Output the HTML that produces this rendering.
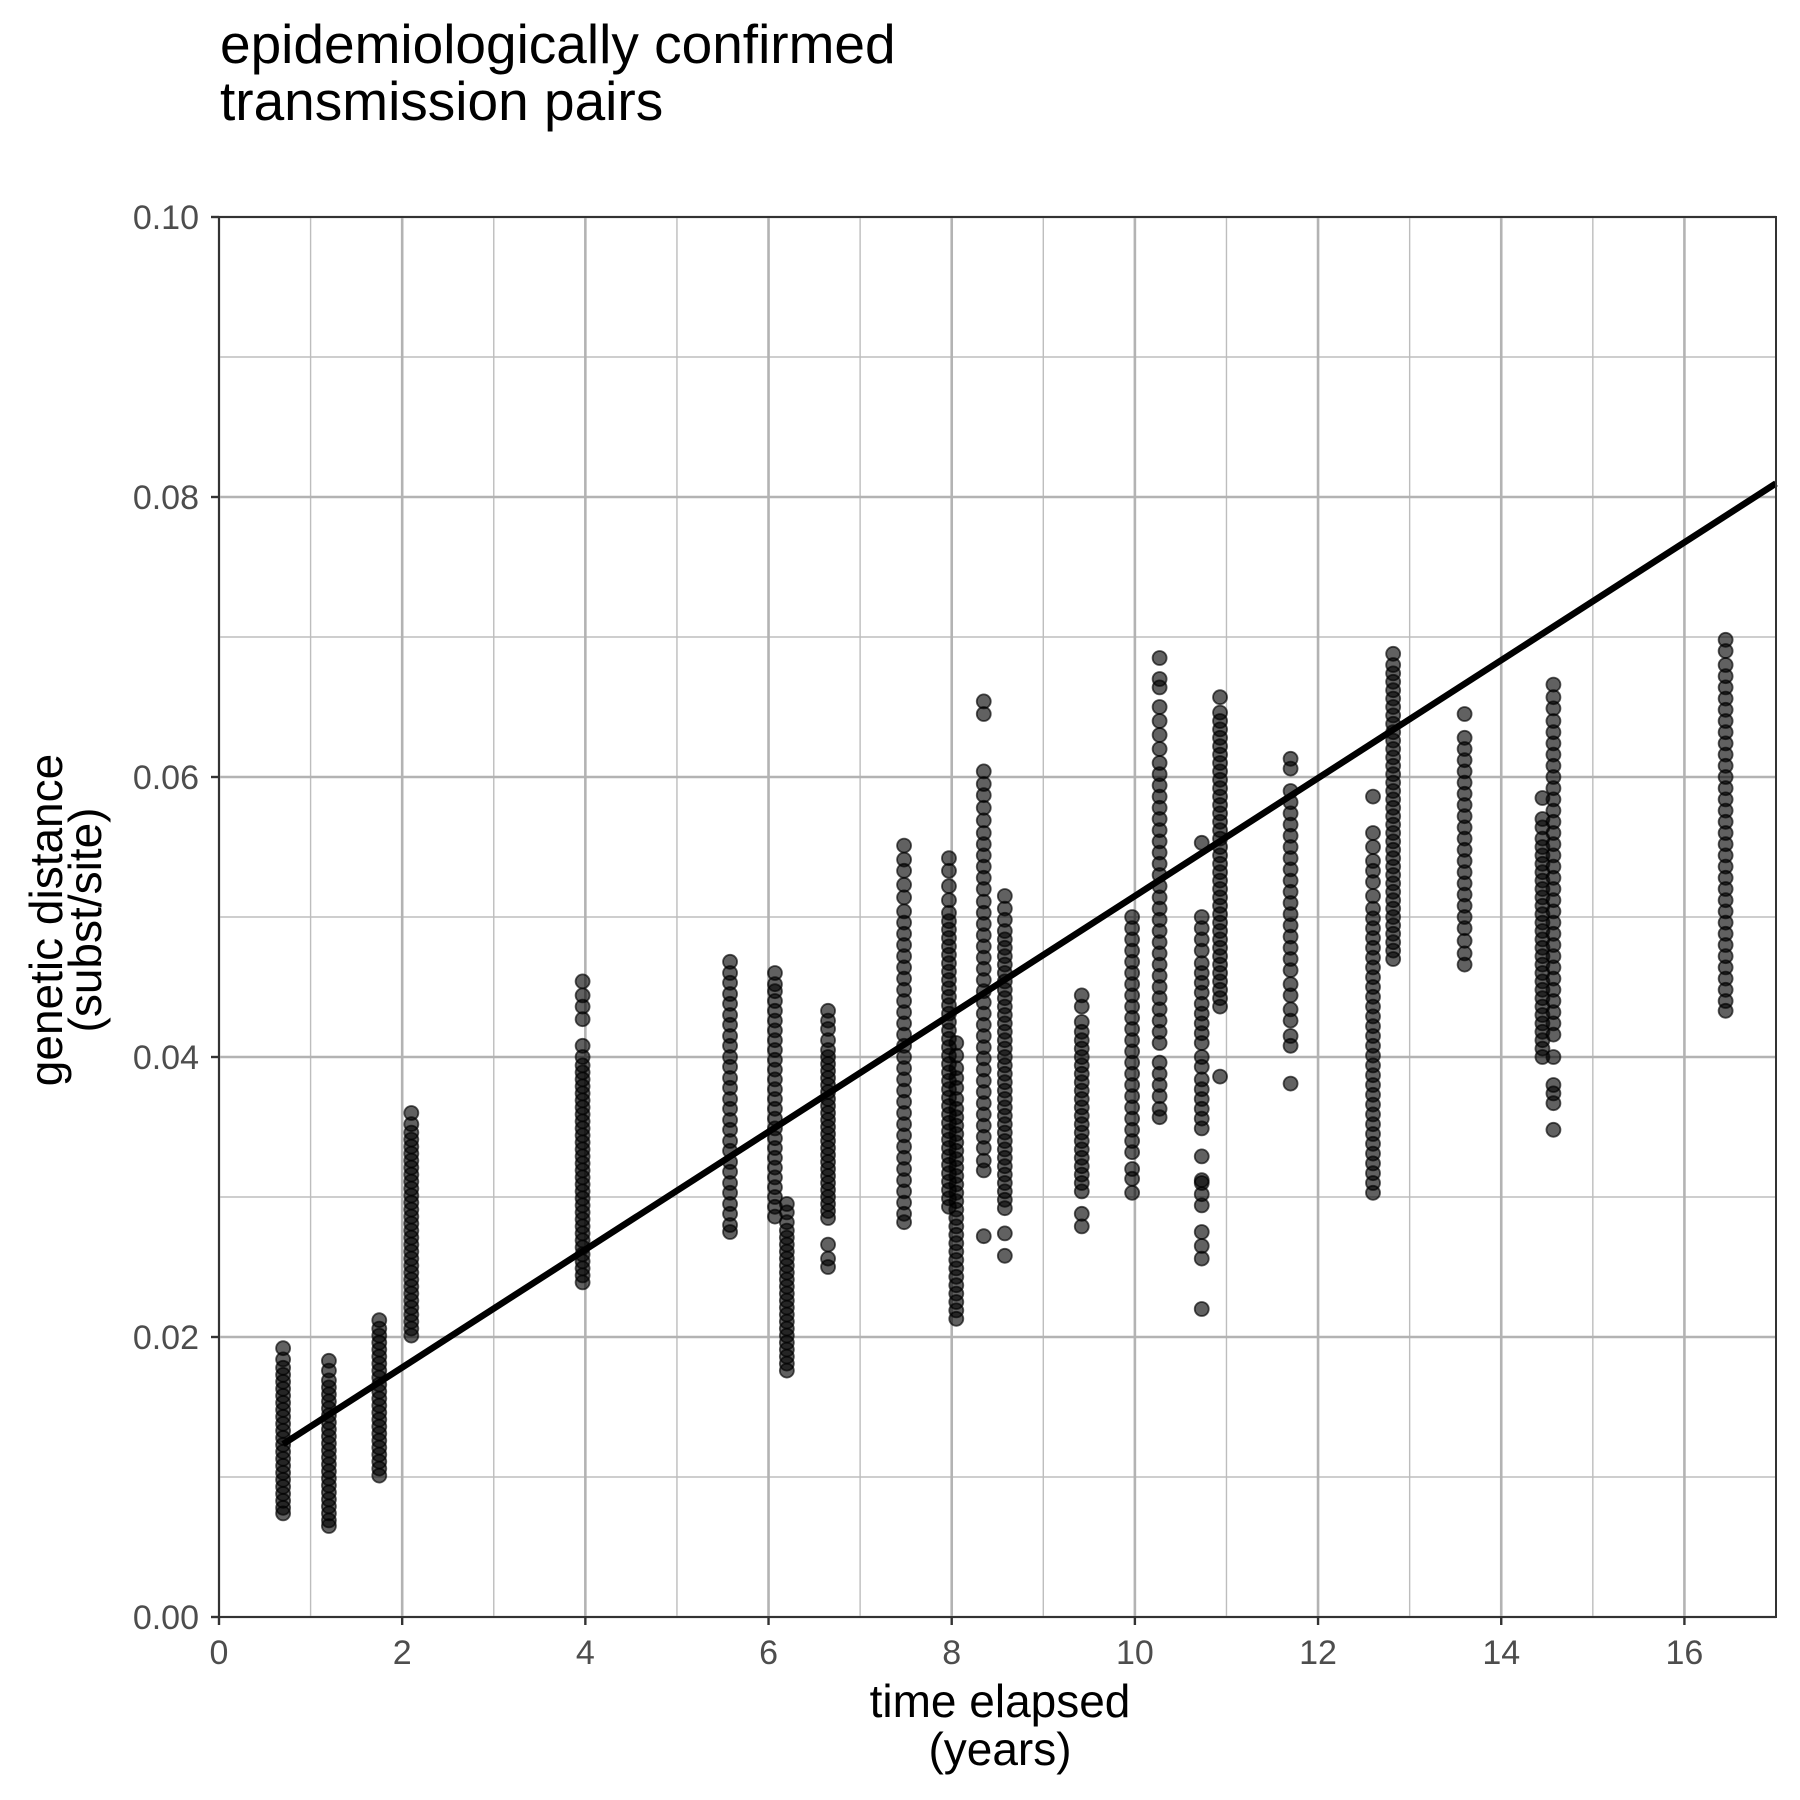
<!DOCTYPE html>
<html><head><meta charset="utf-8"><style>
html,body{margin:0;padding:0;background:#fff;}
svg{display:block;font-family:"Liberation Sans",Arial,sans-serif;}
</style></head><body>
<svg id="chart" width="1800" height="1800" viewBox="0 0 1800 1800" xmlns="http://www.w3.org/2000/svg">
<text x="220" y="63" font-size="55" fill="#000">epidemiologically confirmed</text>
<text x="220" y="120" font-size="55" fill="#000">transmission pairs</text>
<g id="grid"></g>
<g id="points"></g>
<g id="fit"></g>
<g id="axes"></g>
<text x="1000" y="1717" font-size="46" text-anchor="middle">time elapsed</text>
<text x="1000" y="1765" font-size="46" text-anchor="middle">(years)</text>
<text transform="translate(62,920) rotate(-90)" font-size="46" text-anchor="middle">genetic distance</text>
<text transform="translate(101,920) rotate(-90)" font-size="46" text-anchor="middle">(subst/site)</text>
</svg>
<script>
const xTicks = [0,2,4,6,8,10,12,14,16];
const xMinor = [1,3,5,7,9,11,13,15];
const yTicks = [0,0.02,0.04,0.06,0.08,0.10];
const yTickLabels = ["0.00","0.02","0.04","0.06","0.08","0.10"];
const yMinor = [0.01,0.03,0.05,0.07,0.09];
const fitIntercept = 0.0094;
const fitSlope = 0.00421;
const fitRange = [0.7,17];
// column x positions (years) and genetic distances (x0.001 subst/site)
const groupX = [0.7,1.2,1.75,2.1,3.97,5.58,6.07,6.2,6.65,7.48,7.97,8.05,8.35,8.58,9.42,9.97,10.27,10.73,10.93,11.7,12.6,12.82,13.6,14.45,14.57,16.45];
const groupY = [
[7.4,7.8,8.3,8.8,9.3,9.8,10.3,10.8,11.3,11.8,12.3,12.8,13.3,13.8,14.3,14.8,15.3,15.8,16.3,16.8,17.3,17.8,18.4,19.2],
[6.5,6.9,7.4,7.9,8.4,8.9,9.4,9.9,10.4,10.9,11.4,11.9,12.4,12.9,13.4,13.9,14.4,14.9,15.4,15.9,16.4,16.9,17.6,18.3],
[10.1,10.6,11.1,11.6,12.1,12.6,13.1,13.6,14.1,14.6,15.1,15.6,16.1,16.6,17.1,17.6,18.1,18.6,19.1,19.6,20.1,20.6,21.2],
[20.1,20.6,21.1,21.6,22.1,22.6,23.1,23.6,24.1,24.6,25.1,25.6,26.1,26.6,27.1,27.6,28.1,28.6,29.1,29.6,30.1,30.6,31.1,31.6,32.1,32.6,33.1,33.6,34.1,34.6,35.2,36.0],
[23.9,24.4,24.9,25.4,25.9,26.4,26.9,27.4,27.9,28.4,28.9,29.4,29.9,30.4,30.9,31.4,31.9,32.4,32.9,33.4,33.9,34.4,34.9,35.4,35.9,36.4,36.9,37.4,37.9,38.4,38.9,39.4,40.0,40.8,42.7,43.6,44.4,45.4],
[27.5,28.0,28.8,29.5,30.3,31.0,31.8,32.5,33.3,34.0,34.8,35.5,36.3,37.0,37.8,38.5,39.3,40.0,40.8,41.5,42.3,43.0,43.8,44.5,45.3,46.0,46.8],
[28.6,29.3,30.0,30.7,31.4,32.1,32.8,33.5,34.2,34.9,35.6,36.3,37.0,37.7,38.4,39.1,39.8,40.5,41.2,41.9,42.6,43.3,44.0,44.7,45.2,46.0],
[17.6,18.1,18.6,19.1,19.6,20.1,20.6,21.1,21.6,22.1,22.6,23.1,23.6,24.1,24.6,25.1,25.6,26.1,26.6,27.1,27.6,28.2,28.9,29.5],
[25.0,25.6,26.6,28.5,29.0,29.5,30.0,30.5,31.0,31.5,32.0,32.5,33.0,33.5,34.0,34.5,35.0,35.5,36.0,36.5,37.0,37.5,38.0,38.5,39.0,39.5,40.0,40.5,41.2,42.0,42.6,43.3],
[28.2,28.8,29.6,30.4,31.2,32.0,32.8,33.6,34.4,35.2,36.0,36.8,37.6,38.4,39.2,40.0,40.8,41.6,42.4,43.2,44.0,44.8,45.6,46.4,47.2,48.0,48.8,49.6,50.4,51.4,52.3,53.3,54.1,55.1],
[29.3,29.9,30.5,31.1,31.7,32.3,32.9,33.5,34.1,34.7,35.3,35.9,36.5,37.1,37.7,38.3,38.9,39.5,40.1,40.7,41.3,41.9,42.5,43.1,43.7,44.3,44.9,45.5,46.1,46.7,47.3,47.9,48.5,49.1,49.7,50.3,51.2,52.2,53.3,54.2],
[21.3,21.9,22.5,23.1,23.7,24.3,24.9,25.5,26.1,26.7,27.3,27.9,28.5,29.1,29.7,30.3,30.9,31.5,32.1,32.7,33.3,33.9,34.5,35.1,35.7,36.3,37.0,37.8,38.5,39.2,40.1,41.0],
[27.2,31.9,32.6,33.5,34.3,35.1,35.9,36.7,37.5,38.3,39.1,39.9,40.7,41.5,42.3,43.1,43.9,44.7,45.5,46.3,47.1,47.9,48.7,49.5,50.3,51.1,52.0,52.8,53.6,54.4,55.2,56.0,56.9,57.8,58.7,59.5,60.4,64.5,65.4],
[25.8,27.4,29.2,29.8,30.4,31.0,31.6,32.2,32.8,33.4,34.0,34.6,35.2,35.8,36.4,37.0,37.6,38.2,38.8,39.4,40.0,40.6,41.2,41.8,42.4,43.0,43.6,44.2,44.8,45.4,46.0,46.6,47.2,47.8,48.4,49.0,49.8,50.6,51.5],
[27.9,28.8,30.4,31.0,31.6,32.2,32.8,33.4,34.0,34.6,35.2,35.8,36.4,37.0,37.6,38.2,38.8,39.4,40.0,40.6,41.2,41.8,42.5,43.6,44.4],
[30.3,31.3,32.0,33.2,34.0,34.8,35.6,36.4,37.2,38.0,38.8,39.6,40.4,41.2,42.0,42.8,43.6,44.4,45.2,46.0,46.8,47.6,48.4,49.2,50.0],
[35.7,36.3,37.2,38.0,38.8,39.6,41.0,41.8,42.6,43.4,44.2,45.0,45.8,46.6,47.4,48.2,49.0,49.8,50.6,51.4,52.2,53.0,53.8,54.6,55.4,56.2,57.0,57.8,58.6,59.4,60.2,61.0,62.0,63.0,64.0,65.0,66.4,67.0,68.5],
[22.0,25.6,26.5,27.5,29.4,30.2,31.0,31.2,32.9,34.9,35.6,36.3,37.0,37.7,38.4,39.3,40.0,41.0,41.7,42.4,43.1,43.8,44.6,45.3,46.0,46.7,47.6,48.4,49.2,50.0,55.3],
[38.6,43.6,44.2,44.8,45.4,46.0,46.6,47.2,47.8,48.4,49.0,49.6,50.2,50.8,51.4,52.0,52.6,53.2,53.8,54.4,55.0,55.6,56.2,56.8,57.4,58.0,58.6,59.2,59.8,60.4,61.0,61.6,62.2,62.8,63.4,64.0,64.6,65.7],
[38.1,40.8,41.5,42.6,43.4,44.4,45.2,46.2,47.0,47.8,48.6,49.4,50.2,51.0,51.8,52.6,53.4,54.2,55.0,55.8,56.6,57.4,58.2,59.0,60.6,61.3],
[30.3,31.0,31.7,32.4,33.1,33.8,34.5,35.2,35.9,36.6,37.3,38.0,38.7,39.4,40.1,40.8,41.5,42.2,42.9,43.6,44.3,45.0,45.7,46.4,47.1,47.8,48.5,49.2,49.9,50.6,51.5,52.5,53.3,54.0,55.0,56.0,58.6],
[47.0,47.6,48.2,48.8,49.4,50.0,50.6,51.2,51.8,52.4,53.0,53.6,54.2,54.8,55.4,56.0,56.6,57.2,57.8,58.4,59.0,59.6,60.2,60.8,61.4,62.0,62.6,63.2,63.8,64.4,65.0,65.6,66.2,66.8,67.4,68.0,68.8],
[46.6,47.4,48.3,49.2,50.0,50.8,51.6,52.4,53.2,54.0,54.8,55.6,56.4,57.2,58.0,58.8,59.6,60.4,61.2,62.0,62.8,64.5],
[40.0,40.6,41.2,41.8,42.4,43.0,43.6,44.2,44.8,45.4,46.0,46.6,47.2,47.8,48.4,49.0,49.6,50.2,50.8,51.4,52.0,52.6,53.2,53.8,54.4,55.0,55.6,56.4,57.0,58.5],
[34.8,36.7,37.4,38.0,40.0,41.6,42.4,43.2,44.0,44.8,45.6,46.4,47.2,48.0,48.8,49.6,50.4,51.2,52.0,52.8,53.6,54.4,55.2,56.0,56.8,57.6,58.4,59.2,60.0,60.8,61.6,62.4,63.2,64.0,64.9,65.7,66.6],
[43.3,44.0,44.8,45.6,46.4,47.2,48.0,48.8,49.6,50.4,51.2,52.0,52.8,53.6,54.4,55.2,56.0,56.8,57.6,58.4,59.2,60.0,60.8,61.6,62.4,63.2,64.0,64.8,65.6,66.4,67.2,68.0,69.0,69.8]
];

const NS = "http://www.w3.org/2000/svg";
const L = 219, R = 1776, T = 217, B = 1617;
const XMAX = 17, YMAX = 0.10;
function sx(v){ return L + v / XMAX * (R - L); }
function sy(v){ return B - v / YMAX * (B - T); }
function mk(tag, attrs, parent){
  const el = document.createElementNS(NS, tag);
  for (const k in attrs) el.setAttribute(k, attrs[k]);
  parent.appendChild(el);
  return el;
}
const grid = document.getElementById('grid');
const pts = document.getElementById('points');
const fit = document.getElementById('fit');
const axes = document.getElementById('axes');

mk('rect', {x:L, y:T, width:R-L, height:B-T, fill:'#fff'}, grid);
xMinor.forEach(v => {
  const el = mk('line', {x1:sx(v), x2:sx(v), y1:T, y2:B, stroke:'#bdbdbd', 'stroke-width':1.4}, grid);
  
  
});
yMinor.forEach(v => {
  const el = mk('line', {x1:L, x2:R, y1:sy(v), y2:sy(v), stroke:'#bdbdbd', 'stroke-width':1.4}, grid);
  
  
});
xTicks.forEach(v => {
  const el = mk('line', {x1:sx(v), x2:sx(v), y1:T, y2:B, stroke:'#b3b3b3', 'stroke-width':2.6}, grid);
  
  
});
yTicks.forEach(v => {
  const el = mk('line', {x1:L, x2:R, y1:sy(v), y2:sy(v), stroke:'#b3b3b3', 'stroke-width':2.6}, grid);
  
  
});

groupX.forEach((gx, i) => {
  groupY[i].forEach(yv => {
    const c = mk('circle', {cx:sx(gx), cy:sy(yv/1000), r:7, fill:'#000', 'fill-opacity':0.62, stroke:'#000', 'stroke-opacity':0.65, 'stroke-width':1.8}, pts);
    
    
  });
});

const fl = mk('line', {x1:sx(fitRange[0]), y1:sy(fitIntercept + fitSlope*fitRange[0]), x2:sx(fitRange[1]), y2:sy(fitIntercept + fitSlope*fitRange[1]), stroke:'#000', 'stroke-width':6.5}, fit);



const border = mk('rect', {x:L, y:T, width:R-L, height:B-T, fill:'none', stroke:'#333', 'stroke-width':2}, axes);



xTicks.forEach(v => {
  const t = mk('line', {x1:sx(v), x2:sx(v), y1:B, y2:B+8, stroke:'#333', 'stroke-width':2.4}, axes);
  
  
  const lb = mk('text', {x:sx(v), y:B+47, 'font-size':34, fill:'#4d4d4d', 'text-anchor':'middle'}, axes);
  lb.textContent = String(v);
  
  
});
yTicks.forEach((v, i) => {
  const t = mk('line', {x1:L-8, x2:L, y1:sy(v), y2:sy(v), stroke:'#333', 'stroke-width':2.4}, axes);
  
  
  const lb = mk('text', {x:L-20, y:sy(v)+12, 'font-size':34, fill:'#4d4d4d', 'text-anchor':'end'}, axes);
  lb.textContent = yTickLabels[i];
  
  
});
</script>
</body></html>
